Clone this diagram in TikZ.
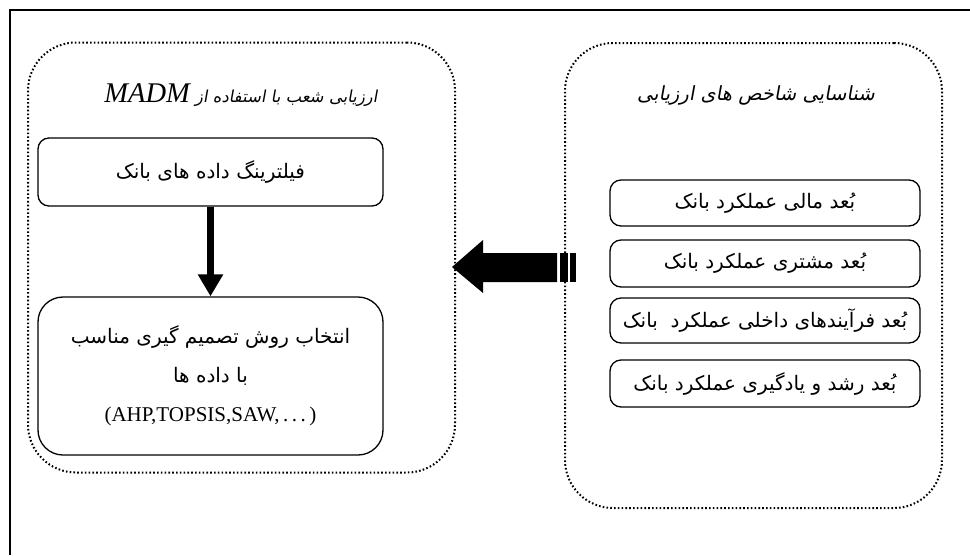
\documentclass[tikz,border=0pt]{standalone}
\usepackage{fontspec}
\setmainfont{Liberation Serif}
\newfontfamily\fa[Script=Arabic]{DejaVu Sans}
\newfontfamily\fait[Script=Arabic,FakeSlant=0.18]{DejaVu Sans}
\TeXXeTstate=1
\usetikzlibrary{arrows.meta,calc}
\tikzset{
  frame/.style={line width=1.5pt},
  group/.style={draw, line width=2pt, dash pattern=on 1.6pt off 2.2pt, rounded corners=48pt, inner sep=0pt},
  box/.style={draw, line width=1.3pt, rounded corners=11pt, inner sep=0pt, align=center, font=\fa\fontsize{20}{24}\selectfont},
  title/.style={inner sep=0pt},
  flow/.style={line width=7pt, -{Triangle[width=24pt,length=22pt]}, shorten >=0pt},
  bigarrow/.style={fill=black, draw=none}
}
\begin{document}
\begin{tikzpicture}[x=1pt,y=-1pt]
\useasboundingbox (0,0) rectangle (970,555);
\fill[white] (0,0) rectangle (970,555);
\coordinate (fa) at (10,555);
\coordinate (fb) at (10,10);
\coordinate (fc) at (970,10);
\draw[frame] (fa) -- (fb) -- (fc);

% groups
\node[group, minimum width=427pt, minimum height=430pt] (L) at (241.5,257.5) {};
\node[group, minimum width=377pt, minimum height=465pt] (R) at (753.5,275.5) {};

% titles
\node[title, font=\fait\fontsize{16.5}{20}\selectfont] (Lt) at (241,95) {\beginR ارزیابی شعب با استفاده از \beginL{\rmfamily\itshape\fontsize{28.5}{31}\selectfont MADM}\endL\endR};
\node[title, font=\fait\fontsize{19.5}{23}\selectfont] (Rt) at (756,95) {\beginR شناسایی شاخص های ارزیابی\endR};

% left boxes
\node[box, fill=white, minimum width=345pt, minimum height=68pt] (f) at (210.5,172) {\beginR فیلترینگ داده های بانک\endR};
\node[box, fill=white, rounded corners=25pt, minimum width=345pt, minimum height=158pt] (m) at (210.5,376)
  {\beginR انتخاب روش تصمیم گیری مناسب\endR\\[15pt]\beginR با داده ها\endR\\[15pt]{\rmfamily\fontsize{21}{24}\selectfont (AHP,TOPSIS,SAW,\,.\,.\,.\,)}};

% right boxes
\node[box, minimum width=310pt, minimum height=46pt] (r1) at (765,203) {\beginR بُعد مالی عملکرد بانک\endR};
\node[box, minimum width=310pt, minimum height=47pt] (r2) at (765,263.5) {\beginR بُعد مشتری عملکرد بانک\endR};
\node[box, minimum width=310pt, minimum height=45pt] (r3) at (765,320.5) {\beginR بُعد فرآیندهای داخلی عملکرد \ بانک\endR};
\node[box, minimum width=310pt, minimum height=47pt] (r4) at (765,383.5) {\beginR بُعد رشد و یادگیری عملکرد بانک\endR};

% down arrow
\draw[flow] (f.south) -- (m.north);

% big striped arrow
\coordinate (tip) at (452,267);
\fill[bigarrow] (tip) -- ++(31,-27) -- ++(0,13) -- ++(74,0) -- ++(0,29) -- ++(-74,0) -- ++(0,11) -- cycle;
\fill[bigarrow] ($(tip)+(108,-14)$) rectangle ++(8,29);
\fill[bigarrow] ($(tip)+(118,-14)$) rectangle ++(6,29);
\end{tikzpicture}
\end{document}
